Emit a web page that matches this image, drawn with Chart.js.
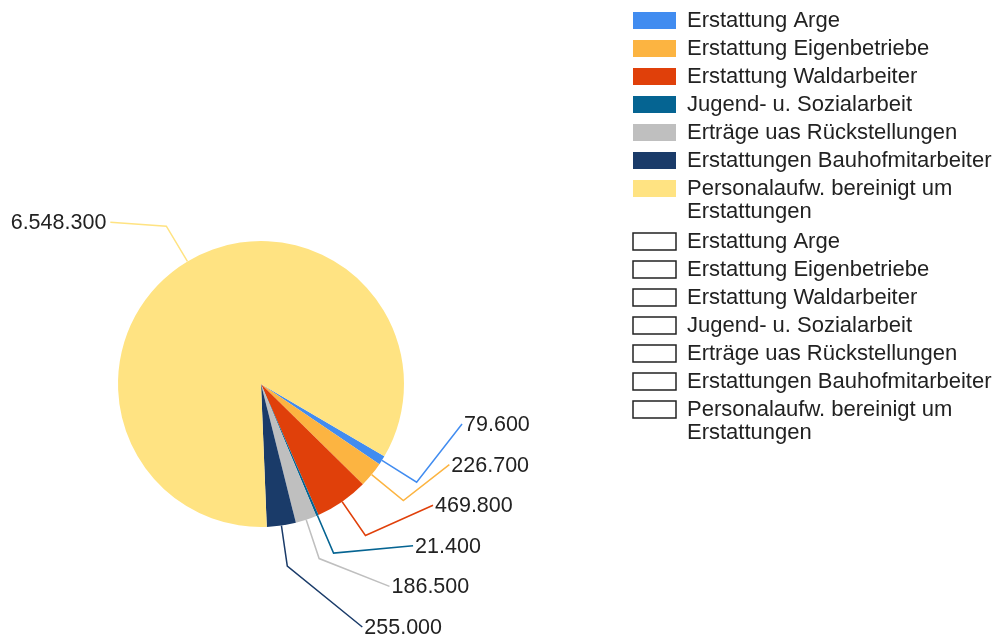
<!DOCTYPE html>
<html>
<head>
<meta charset="utf-8">
<title>Personalaufwand</title>
<script src="https://cdn.jsdelivr.net/npm/chart.js@4"></script>
<style>
    html, body { margin: 0; padding: 0; background: #fff; overflow: hidden; }
</style>
</head>
<body>
<canvas id="pieChart" width="995" height="638"></canvas>
<script>
// data
const categories = [
    'Erstattung Arge',
    'Erstattung Eigenbetriebe',
    'Erstattung Waldarbeiter',
    'Jugend- u. Sozialarbeit',
    'Erträge uas Rückstellungen',
    'Erstattungen Bauhofmitarbeiter',
    ['Personalaufw. bereinigt um', 'Erstattungen']
];
const values = [79600, 226700, 469800, 21400, 186500, 255000, 6548300];
const colors = ['#418CF0', '#FCB441', '#E0400A', '#056492', '#BFBFBF', '#1A3B69', '#FFE382'];

const fontFamily = '"Liberation Sans", Arial, sans-serif';
const textColor = '#222';

// pie placement (left part of the canvas)
const pieCenter = { x: 261, y: 384 };
const pieRadius = 143;

function formatDe(v) {
    return String(v).replace(/\B(?=(\d{3})+(?!\d))/g, '.');
}

// put the pie and the legend where the reference has them
const placeBoxes = {
    id: 'placeBoxes',
    afterLayout(chart) {
        const area = chart.chartArea;
        area.left = pieCenter.x - pieRadius;
        area.right = pieCenter.x + pieRadius;
        area.top = pieCenter.y - pieRadius;
        area.bottom = pieCenter.y + pieRadius;
        area.width = area.height = pieRadius * 2;

        const lg = chart.legend;
        lg.left = 627;
        lg.right = chart.width;
        lg.top = 3.5;
        lg.bottom = chart.height;
        lg.width = lg.right - lg.left;
        lg.height = lg.bottom - lg.top;
    }
};

// value labels outside the pie with leader lines
const outerLabels = {
    id: 'outerLabels',
    afterDatasetsDraw(chart) {
        const ctx = chart.ctx;
        const arcs = chart.getDatasetMeta(0).data;
        const right = [];
        const left = [];

        arcs.forEach((arc, i) => {
            const p = arc.getProps(['x', 'y', 'startAngle', 'endAngle', 'outerRadius'], true);
            const mid = (p.startAngle + p.endAngle) / 2;
            const cos = Math.cos(mid), sin = Math.sin(mid);
            const item = {
                i: i,
                cx: p.x,
                cy: p.y,
                p0: { x: p.x + p.outerRadius * cos, y: p.y + p.outerRadius * sin },
                p1: { x: p.x + (p.outerRadius + 41) * cos, y: p.y + (p.outerRadius + 41) * sin },
                ty: p.y + (p.outerRadius + 80) * sin
            };
            if (cos >= 0) right.push(item); else left.push(item);
        });

        // spread right labels, keep them inside the canvas
        const gap = 40.6;
        for (let k = 1; k < right.length; k++) {
            right[k].ty = Math.max(right[k].ty, right[k - 1].ty + gap);
        }
        const limit = chart.height - 11;
        if (right.length && right[right.length - 1].ty > limit) {
            const shift = right[right.length - 1].ty - limit;
            right.forEach(it => it.ty -= shift);
        }

        ctx.save();
        ctx.font = '21.5px ' + fontFamily;
        ctx.textBaseline = 'middle';
        ctx.lineWidth = 1.5;

        right.forEach(it => {
            const dy = it.ty - it.cy;
            const tx = it.cx + 210 - 0.18 * dy - 0.0011 * dy * dy;
            ctx.strokeStyle = colors[it.i];
            ctx.beginPath();
            ctx.moveTo(it.p0.x, it.p0.y);
            ctx.lineTo(it.p1.x, it.p1.y);
            ctx.lineTo(tx, it.ty);
            ctx.stroke();
            ctx.fillStyle = textColor;
            ctx.textAlign = 'left';
            ctx.fillText(formatDe(values[it.i]), tx + 2, it.ty + 1);
        });

        left.forEach(it => {
            const ex = it.p1.x - 56;
            const ey = it.p1.y - 4;
            ctx.strokeStyle = colors[it.i];
            ctx.beginPath();
            ctx.moveTo(it.p0.x, it.p0.y);
            ctx.lineTo(it.p1.x, it.p1.y);
            ctx.lineTo(ex, ey);
            ctx.stroke();
            ctx.fillStyle = textColor;
            ctx.textAlign = 'right';
            ctx.fillText(formatDe(values[it.i]), ex - 4, ey + 1);
        });
        ctx.restore();
    }
};

Chart.defaults.font.family = fontFamily;

new Chart(document.getElementById('pieChart').getContext('2d'), {
    type: 'pie',
    data: {
        labels: categories,
        datasets: [{
            data: values,
            backgroundColor: colors,
            borderWidth: 0,
            hoverOffset: 0,
            clip: false
        }]
    },
    options: {
        responsive: false,
        animation: false,
        rotation: 120.4,
        radius: pieRadius,
        plugins: {
            tooltip: { enabled: false },
            legend: {
                position: 'right',
                align: 'start',
                labels: {
                    color: textColor,
                    boxWidth: 43,
                    boxHeight: 17,
                    padding: 6,
                    font: { size: 22, lineHeight: '23.5px' },
                    generateLabels: function () {
                        // filled entries, then the empty second series
                        const filled = categories.map((c, i) => ({
                            text: c,
                            fillStyle: colors[i],
                            strokeStyle: colors[i],
                            lineWidth: 0,
                            fontColor: textColor,
                            hidden: false,
                            index: i
                        }));
                        const outline = categories.map((c, i) => ({
                            text: c,
                            fillStyle: '#fff',
                            strokeStyle: '#222',
                            lineWidth: 1.5,
                            fontColor: textColor,
                            hidden: false,
                            index: i
                        }));
                        return filled.concat(outline);
                    }
                }
            }
        }
    },
    plugins: [placeBoxes, outerLabels]
});
</script>
</body>
</html>
